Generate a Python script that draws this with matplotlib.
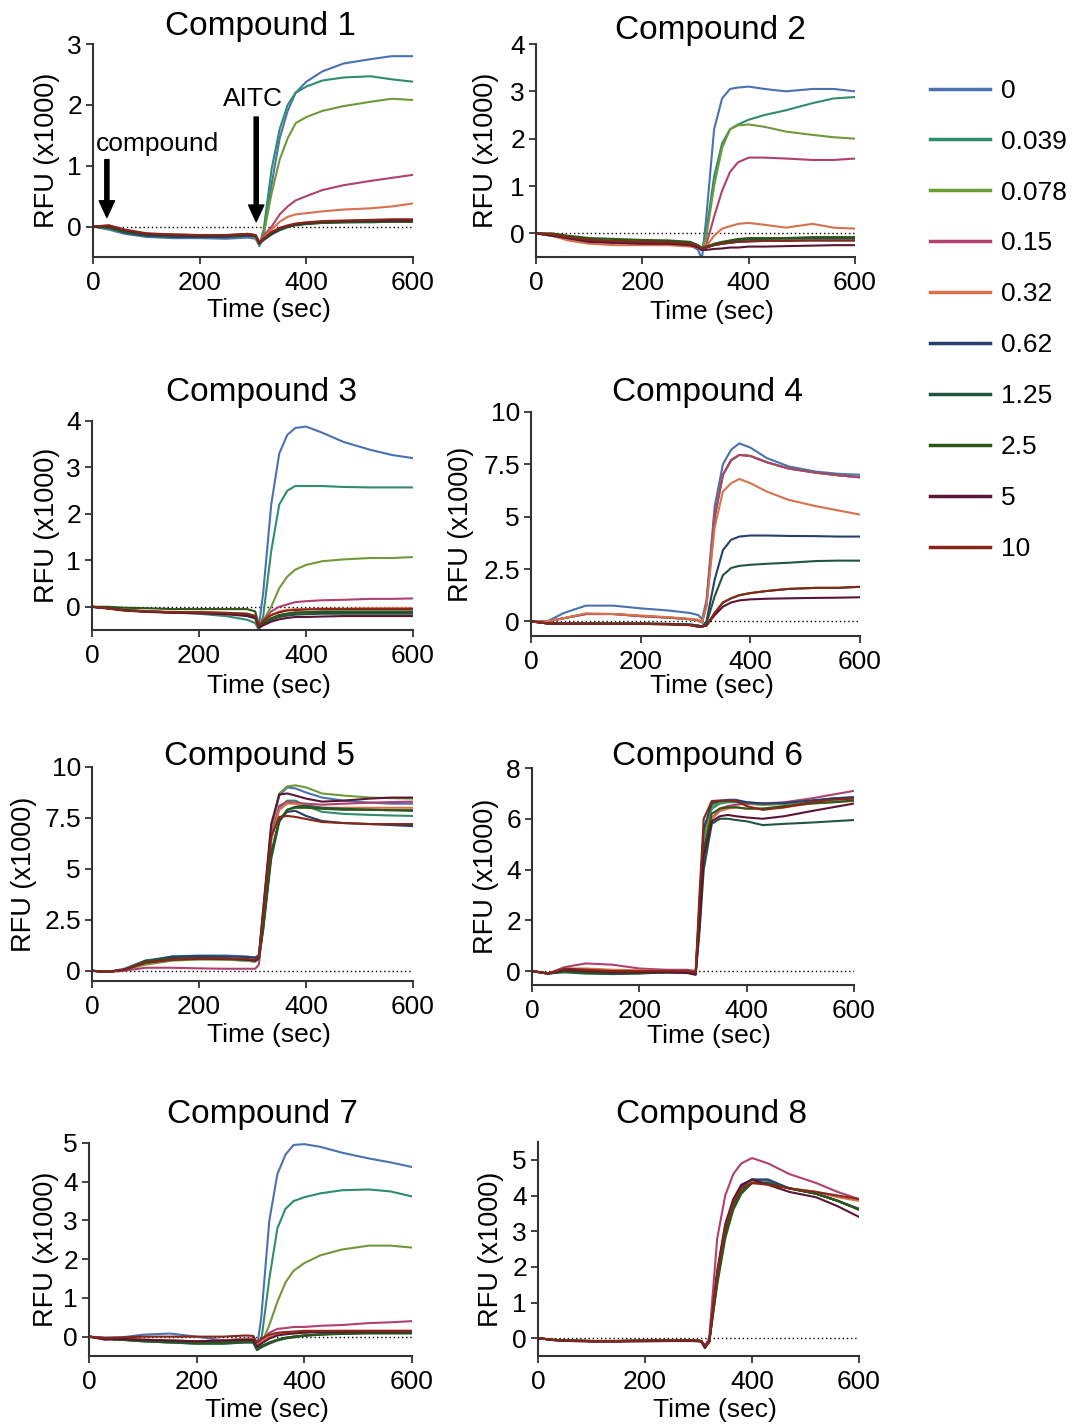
"""Calcium flux traces (RFU) for 8 compounds at 10 concentrations, AITC added at ~300 s."""

import matplotlib
matplotlib.use('Agg')
from matplotlib import pyplot as plt
from matplotlib.lines import Line2D

plt.rcParams['font.family'] = ['Liberation Sans', 'DejaVu Sans']

# Sample times (sec) shared by every trace
T = [0, 30, 60, 100, 150, 200, 250, 290, 305, 312, 320, 335, 350, 365, 380, 400, 430, 470, 520, 560, 600]

CONCS = ['0', '0.039', '0.078', '0.15', '0.32', '0.62', '1.25', '2.5', '5', '10']
COLORS = ['#4a72b0', '#2f8c6c', '#6e9a37', '#b0406e', '#d9714c',
          '#263f6c', '#22553f', '#2e5616', '#5a1535', '#87271a']

# RFU (x1000) per concentration, in CONCS order
C1 = [
    [0, -0.05, -0.12, -0.17, -0.19, -0.19, -0.2, -0.18, -0.2, -0.32, -0.15, 0.7, 1.45, 1.9, 2.2, 2.38, 2.55, 2.68, 2.75, 2.8, 2.8],
    [0, -0.03, -0.1, -0.15, -0.17, -0.17, -0.17, -0.15, -0.18, -0.3, -0.05, 0.95, 1.6, 2.0, 2.2, 2.3, 2.4, 2.45, 2.47, 2.42, 2.38],
    [0, -0.03, -0.1, -0.15, -0.17, -0.17, -0.17, -0.15, -0.18, -0.3, -0.12, 0.55, 1.1, 1.45, 1.7, 1.8, 1.9, 1.98, 2.05, 2.1, 2.08],
    [0, 0.0, -0.08, -0.13, -0.15, -0.15, -0.15, -0.13, -0.15, -0.28, -0.15, 0.0, 0.2, 0.33, 0.43, 0.5, 0.6, 0.68, 0.75, 0.8, 0.85],
    [0, 0.02, -0.06, -0.12, -0.15, -0.15, -0.15, -0.13, -0.15, -0.28, -0.18, -0.05, 0.08, 0.16, 0.2, 0.22, 0.25, 0.28, 0.3, 0.33, 0.38],
    [0, -0.02, -0.1, -0.15, -0.17, -0.17, -0.17, -0.15, -0.16, -0.28, -0.22, -0.12, -0.05, 0.0, 0.03, 0.05, 0.07, 0.08, 0.08, 0.09, 0.1],
    [0, -0.02, -0.09, -0.14, -0.16, -0.16, -0.16, -0.14, -0.15, -0.28, -0.22, -0.13, -0.06, -0.01, 0.02, 0.04, 0.06, 0.07, 0.07, 0.08, 0.08],
    [0, 0.0, -0.07, -0.12, -0.13, -0.14, -0.14, -0.12, -0.14, -0.27, -0.2, -0.1, -0.04, 0.0, 0.03, 0.05, 0.06, 0.07, 0.08, 0.08, 0.08],
    [0, 0.01, -0.06, -0.12, -0.14, -0.15, -0.15, -0.13, -0.15, -0.27, -0.2, -0.1, -0.03, 0.01, 0.04, 0.06, 0.08, 0.09, 0.1, 0.1, 0.1],
    [0, 0.02, -0.05, -0.11, -0.13, -0.14, -0.14, -0.12, -0.14, -0.26, -0.2, -0.09, -0.02, 0.02, 0.05, 0.07, 0.09, 0.1, 0.11, 0.12, 0.12],
]

C2 = [
    [0, -0.05, -0.12, -0.17, -0.2, -0.2, -0.22, -0.25, -0.35, -0.55, 0.3, 2.2, 2.85, 3.05, 3.08, 3.1, 3.05, 3.0, 3.05, 3.05, 3.0],
    [0, -0.05, -0.12, -0.17, -0.2, -0.2, -0.22, -0.25, -0.3, -0.35, 0.0, 1.2, 1.9, 2.2, 2.3, 2.4, 2.5, 2.6, 2.75, 2.85, 2.88],
    [0, -0.04, -0.1, -0.15, -0.18, -0.2, -0.2, -0.24, -0.3, -0.35, -0.1, 1.0, 1.8, 2.2, 2.28, 2.3, 2.25, 2.15, 2.08, 2.03, 2.0],
    [0, -0.05, -0.12, -0.17, -0.2, -0.21, -0.22, -0.25, -0.3, -0.35, -0.25, 0.35, 0.9, 1.3, 1.5, 1.6, 1.6, 1.58, 1.55, 1.55, 1.58],
    [0, -0.05, -0.15, -0.22, -0.25, -0.25, -0.25, -0.28, -0.3, -0.35, -0.28, -0.05, 0.1, 0.15, 0.2, 0.22, 0.18, 0.12, 0.2, 0.12, 0.1],
    [0, -0.03, -0.1, -0.15, -0.18, -0.18, -0.2, -0.22, -0.28, -0.35, -0.3, -0.25, -0.22, -0.2, -0.18, -0.17, -0.16, -0.15, -0.15, -0.15, -0.15],
    [0, -0.02, -0.08, -0.13, -0.16, -0.17, -0.18, -0.2, -0.26, -0.33, -0.3, -0.24, -0.2, -0.17, -0.15, -0.13, -0.12, -0.11, -0.1, -0.1, -0.1],
    [0, 0.0, -0.05, -0.1, -0.12, -0.14, -0.15, -0.18, -0.25, -0.3, -0.28, -0.22, -0.18, -0.15, -0.12, -0.1, -0.1, -0.1, -0.08, -0.08, -0.08],
    [0, -0.05, -0.1, -0.18, -0.2, -0.22, -0.22, -0.25, -0.3, -0.35, -0.35, -0.33, -0.32, -0.3, -0.3, -0.28, -0.28, -0.27, -0.26, -0.25, -0.25],
    [0, -0.02, -0.08, -0.14, -0.17, -0.18, -0.19, -0.22, -0.27, -0.33, -0.3, -0.25, -0.22, -0.2, -0.18, -0.17, -0.16, -0.16, -0.15, -0.15, -0.15],
]

C3 = [
    [0, -0.03, -0.07, -0.1, -0.12, -0.12, -0.14, -0.17, -0.2, -0.4, 0.3, 2.2, 3.3, 3.7, 3.85, 3.88, 3.75, 3.55, 3.38, 3.27, 3.2],
    [0, -0.02, -0.07, -0.1, -0.12, -0.15, -0.2, -0.28, -0.35, -0.5, -0.2, 1.2, 2.2, 2.5, 2.6, 2.6, 2.6, 2.58, 2.57, 2.57, 2.57],
    [0, -0.03, -0.07, -0.1, -0.12, -0.12, -0.14, -0.17, -0.2, -0.4, -0.3, 0.0, 0.4, 0.65, 0.8, 0.9, 0.98, 1.02, 1.05, 1.05, 1.07],
    [0, -0.03, -0.07, -0.1, -0.12, -0.12, -0.14, -0.17, -0.2, -0.4, -0.3, -0.1, 0.0, 0.05, 0.1, 0.12, 0.14, 0.15, 0.17, 0.17, 0.18],
    [0, -0.03, -0.06, -0.09, -0.11, -0.12, -0.13, -0.15, -0.2, -0.4, -0.3, -0.18, -0.1, -0.07, -0.05, -0.05, -0.04, -0.04, -0.03, -0.03, -0.03],
    [0, -0.03, -0.07, -0.1, -0.12, -0.13, -0.14, -0.17, -0.22, -0.4, -0.35, -0.25, -0.18, -0.15, -0.13, -0.12, -0.12, -0.12, -0.12, -0.12, -0.12],
    [0, -0.03, -0.07, -0.1, -0.12, -0.13, -0.15, -0.18, -0.22, -0.42, -0.37, -0.28, -0.22, -0.19, -0.17, -0.16, -0.15, -0.15, -0.15, -0.15, -0.15],
    [0, 0.0, -0.02, -0.03, -0.05, -0.05, -0.05, -0.05, -0.1, -0.4, -0.35, -0.25, -0.18, -0.15, -0.12, -0.12, -0.1, -0.1, -0.1, -0.1, -0.1],
    [0, -0.04, -0.08, -0.11, -0.13, -0.14, -0.16, -0.2, -0.25, -0.45, -0.4, -0.32, -0.27, -0.24, -0.22, -0.22, -0.21, -0.2, -0.2, -0.2, -0.2],
    [0, -0.03, -0.08, -0.1, -0.12, -0.12, -0.13, -0.15, -0.2, -0.4, -0.3, -0.18, -0.12, -0.08, -0.07, -0.06, -0.05, -0.05, -0.05, -0.05, -0.05],
]

C4 = [
    [0, 0.0, 0.4, 0.75, 0.75, 0.62, 0.52, 0.4, 0.3, 0.1, 1.0, 5.5, 7.5, 8.2, 8.5, 8.3, 7.8, 7.4, 7.15, 7.05, 7.0],
    [0, 0.0, 0.15, 0.35, 0.35, 0.25, 0.18, 0.1, 0.05, -0.05, 0.8, 5.0, 7.0, 7.7, 7.95, 7.9, 7.6, 7.3, 7.1, 6.98, 6.88],
    [0, 0.0, 0.15, 0.35, 0.35, 0.25, 0.18, 0.1, 0.05, -0.05, 0.8, 5.0, 7.0, 7.7, 7.95, 7.9, 7.6, 7.3, 7.1, 6.98, 6.88],
    [0, 0.0, 0.15, 0.35, 0.35, 0.25, 0.18, 0.1, 0.05, -0.05, 0.8, 5.0, 7.0, 7.7, 7.95, 7.9, 7.6, 7.3, 7.1, 6.98, 6.88],
    [0, 0.0, 0.15, 0.38, 0.35, 0.28, 0.2, 0.12, 0.08, -0.05, 0.7, 4.5, 6.2, 6.6, 6.8, 6.6, 6.2, 5.8, 5.5, 5.3, 5.1],
    [0, -0.1, -0.1, -0.1, -0.1, -0.1, -0.12, -0.15, -0.2, -0.25, 0.0, 2.0, 3.4, 3.9, 4.05, 4.1, 4.1, 4.08, 4.07, 4.05, 4.05],
    [0, -0.1, -0.1, -0.1, -0.1, -0.1, -0.12, -0.15, -0.2, -0.25, -0.1, 1.2, 2.2, 2.55, 2.65, 2.7, 2.75, 2.8, 2.88, 2.9, 2.9],
    [0, -0.1, -0.12, -0.12, -0.12, -0.12, -0.14, -0.18, -0.25, -0.25, -0.2, 0.4, 0.9, 1.1, 1.25, 1.35, 1.45, 1.55, 1.6, 1.6, 1.65],
    [0, -0.1, -0.12, -0.12, -0.12, -0.12, -0.14, -0.18, -0.25, -0.25, -0.2, 0.3, 0.7, 0.9, 1.0, 1.05, 1.08, 1.1, 1.12, 1.13, 1.15],
    [0, -0.1, -0.12, -0.12, -0.12, -0.12, -0.14, -0.18, -0.25, -0.25, -0.2, 0.4, 0.9, 1.1, 1.25, 1.35, 1.45, 1.55, 1.6, 1.6, 1.65],
]

C5 = [
    [0, -0.05, 0.1, 0.5, 0.7, 0.75, 0.75, 0.7, 0.65, 0.8, 3.0, 7.0, 8.6, 9.0, 8.95, 8.75, 8.5, 8.35, 8.25, 8.2, 8.2],
    [0, -0.05, 0.05, 0.45, 0.6, 0.6, 0.55, 0.5, 0.45, 0.6, 2.6, 6.5, 8.0, 8.35, 8.35, 8.1, 7.8, 7.7, 7.65, 7.62, 7.6],
    [0, -0.05, 0.05, 0.3, 0.5, 0.55, 0.55, 0.5, 0.45, 0.6, 2.8, 6.9, 8.7, 9.05, 9.1, 9.0, 8.7, 8.6, 8.5, 8.47, 8.45],
    [0, -0.05, 0.0, 0.15, 0.15, 0.12, 0.1, 0.1, 0.1, 0.3, 2.5, 6.6, 8.1, 8.3, 8.25, 8.2, 8.15, 8.2, 8.25, 8.28, 8.3],
    [0, -0.05, 0.05, 0.4, 0.55, 0.6, 0.58, 0.55, 0.5, 0.6, 2.5, 6.4, 7.9, 8.2, 8.2, 8.1, 8.0, 8.0, 8.0, 8.0, 8.0],
    [0, -0.05, 0.05, 0.45, 0.7, 0.72, 0.7, 0.68, 0.65, 0.7, 2.2, 5.8, 7.4, 7.8, 7.85, 7.6, 7.35, 7.25, 7.2, 7.15, 7.1],
    [0, -0.05, 0.05, 0.5, 0.62, 0.62, 0.6, 0.55, 0.5, 0.6, 2.0, 5.5, 7.3, 7.9, 8.05, 8.1, 8.0, 7.95, 7.9, 7.88, 7.85],
    [0, -0.05, 0.05, 0.45, 0.58, 0.6, 0.58, 0.55, 0.5, 0.6, 2.1, 5.7, 7.4, 7.9, 8.0, 8.0, 7.95, 7.9, 7.9, 7.88, 7.88],
    [0, -0.05, 0.05, 0.4, 0.55, 0.6, 0.6, 0.55, 0.5, 0.7, 3.0, 7.2, 8.65, 8.7, 8.6, 8.45, 8.3, 8.35, 8.45, 8.5, 8.5],
    [0, -0.05, 0.05, 0.4, 0.55, 0.6, 0.6, 0.58, 0.55, 0.7, 2.8, 6.6, 7.55, 7.6, 7.55, 7.45, 7.3, 7.25, 7.2, 7.2, 7.2],
]

C6 = [
    [0, -0.1, 0.05, 0.05, 0.0, -0.03, 0.0, 0.0, -0.05, 2.5, 5.5, 6.6, 6.7, 6.75, 6.75, 6.65, 6.6, 6.6, 6.7, 6.8, 6.85],
    [0, -0.1, 0.0, 0.0, -0.05, -0.05, -0.02, -0.02, -0.08, 2.2, 5.2, 6.4, 6.6, 6.65, 6.65, 6.6, 6.55, 6.58, 6.68, 6.75, 6.8],
    [0, -0.1, 0.02, 0.02, -0.03, -0.04, -0.02, -0.02, -0.06, 2.3, 5.3, 6.5, 6.65, 6.7, 6.7, 6.6, 6.55, 6.6, 6.7, 6.78, 6.82],
    [0, -0.1, 0.15, 0.3, 0.25, 0.1, 0.05, 0.05, 0.0, 1.8, 4.5, 6.0, 6.4, 6.5, 6.55, 6.6, 6.6, 6.65, 6.8, 6.95, 7.1],
    [0, -0.1, 0.1, 0.1, 0.05, 0.03, 0.0, 0.0, -0.05, 2.0, 4.8, 6.0, 6.3, 6.4, 6.45, 6.4, 6.4, 6.45, 6.6, 6.65, 6.7],
    [0, -0.1, 0.0, -0.05, -0.08, -0.08, -0.05, -0.05, -0.1, 2.6, 5.6, 6.6, 6.7, 6.72, 6.72, 6.65, 6.6, 6.62, 6.72, 6.8, 6.85],
    [0, -0.1, -0.05, -0.1, -0.12, -0.1, -0.05, -0.05, -0.1, 1.5, 4.0, 5.8, 6.0, 6.0, 5.95, 5.9, 5.75, 5.8, 5.85, 5.9, 5.95],
    [0, -0.1, 0.0, -0.05, -0.08, -0.08, -0.05, -0.05, -0.1, 2.0, 4.8, 6.2, 6.4, 6.45, 6.45, 6.4, 6.4, 6.5, 6.6, 6.65, 6.72],
    [0, -0.1, 0.05, 0.0, -0.05, -0.05, -0.05, -0.08, -0.15, 1.8, 4.5, 5.9, 6.1, 6.15, 6.1, 6.05, 6.0, 6.1, 6.3, 6.45, 6.6],
    [0, -0.1, 0.1, 0.05, 0.0, 0.0, 0.0, 0.0, -0.05, 3.0, 6.0, 6.7, 6.72, 6.72, 6.7, 6.5, 6.35, 6.45, 6.65, 6.75, 6.8],
]

C7 = [
    [0, -0.03, -0.02, 0.05, 0.08, 0.0, -0.1, -0.08, -0.12, -0.3, 0.5, 3.0, 4.2, 4.7, 4.95, 4.97, 4.9, 4.75, 4.6, 4.5, 4.38],
    [0, -0.05, -0.08, -0.12, -0.15, -0.18, -0.18, -0.15, -0.15, -0.32, -0.1, 1.5, 2.8, 3.3, 3.5, 3.6, 3.7, 3.78, 3.8, 3.75, 3.62],
    [0, -0.05, -0.08, -0.12, -0.15, -0.18, -0.17, -0.13, -0.13, -0.3, -0.2, 0.3, 0.9, 1.4, 1.7, 1.9, 2.1, 2.25, 2.35, 2.35, 2.3],
    [0, -0.05, -0.06, -0.08, -0.1, -0.12, -0.1, -0.05, -0.05, -0.2, -0.1, 0.1, 0.2, 0.22, 0.25, 0.25, 0.28, 0.3, 0.35, 0.37, 0.4],
    [0, -0.05, -0.06, -0.08, -0.1, -0.12, -0.1, -0.06, -0.06, -0.2, -0.15, 0.0, 0.08, 0.1, 0.12, 0.13, 0.14, 0.15, 0.15, 0.15, 0.15],
    [0, -0.05, -0.08, -0.1, -0.12, -0.15, -0.15, -0.12, -0.12, -0.3, -0.25, -0.15, -0.08, -0.03, 0.0, 0.03, 0.06, 0.08, 0.1, 0.1, 0.1],
    [0, -0.05, -0.08, -0.12, -0.15, -0.18, -0.18, -0.15, -0.15, -0.35, -0.28, -0.18, -0.1, -0.05, -0.02, 0.02, 0.05, 0.07, 0.08, 0.08, 0.08],
    [0, -0.05, -0.08, -0.1, -0.12, -0.15, -0.15, -0.12, -0.12, -0.3, -0.25, -0.15, -0.08, -0.03, 0.0, 0.03, 0.06, 0.08, 0.1, 0.1, 0.1],
    [0, -0.08, -0.06, -0.08, -0.1, -0.12, -0.1, -0.08, -0.08, -0.25, -0.18, -0.05, 0.03, 0.06, 0.08, 0.1, 0.12, 0.12, 0.13, 0.13, 0.13],
    [0, -0.03, -0.02, 0.0, 0.0, 0.0, 0.0, 0.03, 0.02, -0.15, -0.05, 0.05, 0.1, 0.12, 0.13, 0.15, 0.15, 0.15, 0.15, 0.15, 0.15],
]

C8 = [
    [0, -0.05, -0.07, -0.08, -0.08, -0.07, -0.06, -0.06, -0.08, -0.22, -0.1, 1.8, 3.1, 3.8, 4.2, 4.45, 4.4, 4.2, 4.05, 3.85, 3.6],
    [0, -0.05, -0.07, -0.08, -0.08, -0.07, -0.06, -0.06, -0.08, -0.22, -0.1, 1.7, 3.0, 3.75, 4.15, 4.4, 4.35, 4.2, 4.05, 3.85, 3.62],
    [0, -0.05, -0.07, -0.08, -0.08, -0.07, -0.06, -0.06, -0.08, -0.22, -0.1, 1.6, 2.9, 3.7, 4.1, 4.35, 4.35, 4.2, 4.05, 3.85, 3.62],
    [0, -0.05, -0.07, -0.08, -0.08, -0.07, -0.06, -0.06, -0.08, -0.2, 0.0, 2.8, 4.0, 4.6, 4.9, 5.05, 4.9, 4.6, 4.35, 4.1, 3.9],
    [0, -0.05, -0.07, -0.08, -0.08, -0.07, -0.06, -0.06, -0.08, -0.22, -0.1, 1.8, 3.1, 3.8, 4.2, 4.4, 4.35, 4.2, 4.1, 3.95, 3.85],
    [0, -0.05, -0.07, -0.08, -0.08, -0.07, -0.06, -0.06, -0.08, -0.22, -0.1, 1.8, 3.1, 3.8, 4.25, 4.45, 4.45, 4.2, 4.05, 3.85, 3.62],
    [0, -0.05, -0.07, -0.08, -0.08, -0.07, -0.06, -0.06, -0.08, -0.22, -0.1, 1.6, 2.9, 3.7, 4.1, 4.35, 4.35, 4.2, 4.05, 3.85, 3.62],
    [0, -0.05, -0.07, -0.08, -0.08, -0.07, -0.06, -0.06, -0.08, -0.22, -0.12, 1.5, 2.8, 3.6, 4.05, 4.35, 4.35, 4.2, 4.05, 3.85, 3.6],
    [0, -0.06, -0.08, -0.1, -0.1, -0.09, -0.08, -0.08, -0.1, -0.28, -0.1, 1.9, 3.2, 3.9, 4.3, 4.45, 4.3, 4.1, 3.95, 3.7, 3.4],
    [0, -0.05, -0.07, -0.08, -0.08, -0.07, -0.06, -0.06, -0.08, -0.22, -0.1, 1.8, 3.1, 3.8, 4.2, 4.35, 4.3, 4.2, 4.1, 4.0, 3.9],
]

PANELS = [C1, C2, C3, C4, C5, C6, C7, C8]
TITLES = [f'Compound {i}' for i in range(1, 9)]
YLIMS = [(-0.5, 3), (-0.5, 4), (-0.5, 4), (-0.7, 10), (-0.5, 10), (-0.55, 8), (-0.5, 5), (-0.5, 5.5)]
YTICKS = [[0, 1, 2, 3], [0, 1, 2, 3, 4], [0, 1, 2, 3, 4], [0, 2.5, 5, 7.5, 10],
          [0, 2.5, 5, 7.5, 10], [0, 2, 4, 6, 8], [0, 1, 2, 3, 4, 5], [0, 1, 2, 3, 4, 5]]
YTICKLABELS = [['0', '1', '2', '3'], ['0', '1', '2', '3', '4'], ['0', '1', '2', '3', '4'],
               ['0', '2.5', '5', '7.5', '10'], ['0', '2.5', '5', '7.5', '10'],
               ['0', '2', '4', '6', '8'], ['0', '1', '2', '3', '4', '5'], ['0', '1', '2', '3', '4', '5']]

# Axes boxes in pixels: left, right, top, bottom  (figure 1072 x 1424)
W, H = 1072, 1424
BOXES = [(93, 413, 44, 257), (536, 855, 44, 257),
         (92, 413, 421, 630), (531, 860, 412, 636),
         (92, 413, 767, 981), (532, 854, 768, 985),
         (89, 412, 1143, 1356), (538, 859, 1142, 1356)]
TITLE_POS = [(260, 27), (710, 30), (262, 392), (708, 393), (260, 757), (708, 757), (262, 1115), (711, 1115)]
YLABEL_RIGHT = [60, 499, 60, 474, 37, 499, 59, 504]   # right edge of the rotated y label
XLABEL_TOP = [298, 300, 674, 674, 1023, 1024, 1398, 1398]

fig = plt.figure(figsize=(W / 100, H / 100), dpi=100)

for i, data in enumerate(PANELS):
    left, right, top, bottom = BOXES[i]
    ax = fig.add_axes([left / W, 1 - bottom / H, (right - left) / W, (bottom - top) / H])
    ax.axhline(0, color='black', linestyle=(0, (1, 2)), linewidth=1.0, zorder=1)
    for values, color in zip(data, COLORS):
        ax.plot(T, values, color=color, linewidth=1.5, zorder=2)
    ax.set_xlim(0, 600)
    ax.set_ylim(*YLIMS[i])
    ax.set_xticks([0, 200, 400, 600])
    ax.set_yticks(YTICKS[i])
    ax.set_yticklabels(YTICKLABELS[i])
    ax.tick_params(labelsize=19, length=5, width=1.3, color='#333333', pad=3)
    ax.tick_params(axis='x', pad=5)
    for side in ['top', 'right']:
        ax.spines[side].set_visible(False)
    for side in ['left', 'bottom']:
        ax.spines[side].set_linewidth(1.5)
        ax.spines[side].set_color('#333333')
    ax.set_xlabel('Time (sec)', fontsize=19)
    ax.set_ylabel('RFU (x1000)', fontsize=19.5)
    ax.xaxis.set_label_coords(0.55, -(XLABEL_TOP[i] - bottom) / (bottom - top))
    ax.yaxis.set_label_coords((YLABEL_RIGHT[i] - left) / (right - left), 0.5)
    tx, ty = TITLE_POS[i]
    fig.text(tx / W, 1 - ty / H, TITLES[i], fontsize=24, ha='center', va='center')

    if i == 0:
        arrow = dict(facecolor='black', edgecolor='black', width=3, headwidth=11, headlength=12)
        ax.annotate('', xy=(26, 0.15), xytext=(26, 1.1), arrowprops=arrow)
        ax.text(6, 1.35, 'compound', fontsize=19, va='center', ha='left')
        ax.annotate('', xy=(306, 0.08), xytext=(306, 1.8), arrowprops=arrow)
        ax.text(300, 2.1, 'AITC', fontsize=19, va='center', ha='center')

handles = [Line2D([], [], color=c, linewidth=2.5) for c in COLORS]
fig.legend(handles, CONCS, loc='upper left', bbox_to_anchor=(906 / W, 1 - 55 / H),
           frameon=False, fontsize=19, handlelength=2.3, handletextpad=0.4, labelspacing=1.02)

fig.savefig('out.png', dpi=100)
